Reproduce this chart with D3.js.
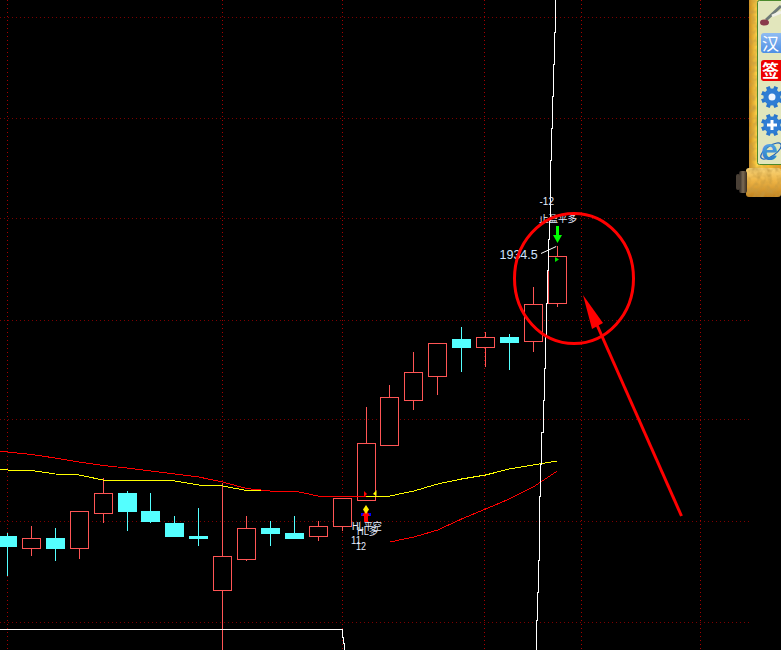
<!DOCTYPE html>
<html>
<head>
<meta charset="utf-8">
<script src="https://cdn.jsdelivr.net/npm/d3@7/dist/d3.min.js"></script>
<style>
html,body{margin:0;padding:0;background:#000;overflow:hidden}
svg{display:block}
text{font-family:"Liberation Sans","Noto Sans CJK SC",sans-serif}
</style>
</head>
<body>
<svg id="chart" width="781" height="650"></svg>
<script>
// ---- data ----
const bars   = d3.range(24);
const opens  = [1789.5,1783.5,1788.5,1783.5,1801,1811,1802,1796,1789.5,1762.5,1778,1793.5,1791,1789.5,1794.5,1807.5,1835,1857.5,1869,1888,1884,1889,1887,1906];
const closes = [1784.5,1788.5,1783.5,1802,1811,1802,1797,1789.5,1788.5,1779.5,1793.5,1791,1788.5,1794.5,1808.5,1836,1859,1871.5,1885.5,1884,1889,1886.5,1905.5,1929.5];
const highs  = [1791,1794.5,1793.5,1802,1818.5,1812,1811,1799.5,1803.5,1816,1799.5,1797,1799.5,1797,1808.5,1854,1865,1881.5,1885.5,1894,1891.5,1890.5,1914,1934.5];
const lows   = [1769.5,1779.5,1777,1778,1796,1792,1796,1789.5,1784.5,1727.5,1777,1784.5,1788.5,1787,1792,1807.5,1835,1852.5,1860,1871.5,1874,1872.5,1881.5,1904];

const maRedBars = [-1,0,1,2,3,4,5,6,7,8,9,10,11,12,13,14,15];
const maRed     = [1833,1831.5,1830.25,1828.5,1826.5,1824.75,1823.5,1822,1820.5,1819,1816.5,1813.25,1812,1812,1809.5,1809.5,1809.5];

const maYellowBars = [-1,0,1,2,3,4,5,6,7,8,9,10,11,12,13,14,15,16,17,18,19,20,21,22,23];
const maYellow     = [1823,1822.5,1822.25,1820.5,1820,1817.5,1817.5,1817.5,1817,1815,1814.5,1812.25,1812,1812,1809.5,1809.5,1809.5,1809.5,1812,1815.5,1818,1820,1823,1825,1827];

const lowerBars = [16,17,18,19,20,21,22,23];
const lowerLine = [1786.5,1789,1792.5,1798,1803,1808,1814,1822];

const steepBars   = [22.93,22.89,22.85,22.81,22.77,22.74,22.73,22.69,22.63,22.60,22.55,22.51,22.46,22.41,22.36,22.32,22.28,22.24,22.20,22.16,22.13,22.11];
const steepPrices = [2057.5,2041.5,2025.5,2009.5,1993.5,1977.5,1967.5,1947.5,1938,1922.5,1906,1889.5,1873.5,1857.5,1841.5,1825.5,1809.5,1793.5,1777.5,1761.5,1747.5,1732.5];

const floorBars   = [-1,14,14.05,14.1,14.16];
const floorPrices = [1742.75,1742.75,1739,1736,1732.5];

const gridPrices = [2049,1998.5,1948,1897.5,1847.5,1797,1746.5];
const gridBars   = [-0.01,9,14,19.97,24.03,29.0];

const priceLabel = "1934.5";
const topLabels  = ["-12","止盈平多"];
const lowLabels  = ["HL平空","HL多","11","12"];

// ---- scales ----
const x = d3.scaleLinear().domain([0,23]).range([7.5,557.2]);
const y = d3.scaleLinear().domain([1732.5,2057.5]).range([650,0]);
const svg = d3.select("#chart");
svg.append("rect").attr("width",781).attr("height",650).attr("fill","#000");

const RED="#ff5555", CYAN="#54ffff";
const px = v => Math.floor(v)+0.5;

// ---- grid ----
const grid = svg.append("g").attr("shape-rendering","crispEdges");
grid.selectAll("line.h").data(gridPrices).join("line").attr("class","h")
  .attr("x1",0).attr("x2",750).attr("y1",d=>px(y(d))).attr("y2",d=>px(y(d)))
  .attr("stroke","#7c0000").attr("stroke-dasharray","1 3");
grid.selectAll("line.v").data(gridBars).join("line").attr("class","v")
  .attr("x1",d=>px(x(d))).attr("x2",d=>px(x(d))).attr("y1",0).attr("y2",650)
  .attr("stroke","#a80000").attr("stroke-dasharray","1 3");

// ---- candles ----
const candles = svg.append("g").attr("shape-rendering","crispEdges");
const candle = candles.selectAll("g").data(bars).join("g");
candle.append("line")
  .attr("x1",i=>px(x(i))).attr("x2",i=>px(x(i)))
  .attr("y1",i=>y(highs[i])).attr("y2",i=>y(lows[i]))
  .attr("stroke",i=>closes[i]>=opens[i]?RED:CYAN);
candle.append("rect")
  .attr("x",i=>px(x(i))-9).attr("width",18)
  .attr("y",i=>px(y(Math.max(opens[i],closes[i]))))
  .attr("height",i=>Math.max(1,Math.round(y(Math.min(opens[i],closes[i]))-y(Math.max(opens[i],closes[i])))))
  .attr("fill",i=>closes[i]>=opens[i]?"#000":CYAN)
  .attr("stroke",i=>closes[i]>=opens[i]?RED:CYAN);

// ---- lines ----
const line = (xs,ys,curve) => d3.line().x((d,i)=>x(xs[i])).y((d,i)=>y(ys[i])).curve(curve||d3.curveLinear)(ys);
const strokeLine = (d,c) => svg.append("path").attr("d",d).attr("fill","none").attr("stroke",c).attr("stroke-width",1).attr("shape-rendering","crispEdges");
strokeLine(line(maYellowBars,maYellow),"#ffff00");
strokeLine(line(maRedBars,maRed),"#ff0000");
strokeLine(line(lowerBars,lowerLine),"#ff0000");
strokeLine(line(steepBars,steepPrices,d3.curveStepBefore),"#fff");
strokeLine(line(floorBars,floorPrices,d3.curveStepBefore),"#fff");

// ---- signal markers ----
const mk = svg.append("g");
mk.append("polygon").attr("points","364,491 364,497 367,494").attr("fill","#f00");
mk.append("polygon").attr("points","376.5,490 376.5,496 373,494").attr("fill","#ff0");
mk.append("rect").attr("x",361).attr("y",513).attr("width",10).attr("height",3).attr("fill","#0000ff");
mk.append("polygon").attr("points","366,510 370,516 368,516 368,522 364,522 364,516 362,516").attr("fill","#f00");
mk.append("polygon").attr("points","366,505 369,509.5 366,514 363,509.5").attr("fill","#ffee00");
mk.append("polygon").attr("points","556,226 559,226 559,235 562,235 557.5,243 553,235 556,235").attr("fill","#00ff00");
mk.append("polygon").attr("points","555,257 555,262 559,259.5").attr("fill","#00e000");

// ---- labels ----
const T = (t,xx,yy,fs,fill,len) => {
  const s = svg.append("text").text(t).attr("x",xx).attr("y",yy).attr("font-size",fs).attr("fill",fill||"#e4ecff");
  if(len) s.attr("textLength",len).attr("lengthAdjust","spacingAndGlyphs");
  return s;
};
T(lowLabels[0],352,529.5,10,null,30);
T(lowLabels[1],357,534.5,10,null,21);
T(lowLabels[2],351,544,10,null,10);
T(lowLabels[3],356,550,10,null,10);
T(topLabels[0],539.5,205,10);
T(topLabels[1],539,222,9.5);
T(priceLabel,499.5,259,12.5,"#cfe4ff");
svg.append("line").attr("x1",541).attr("y1",253.5).attr("x2",x(23)-1).attr("y2",y(highs[23])+0.5).attr("stroke","#fff");

// ---- hand-drawn annotation ----
svg.append("ellipse").attr("cx",574).attr("cy",278.5).attr("rx",59.5).attr("ry",65).attr("fill","none").attr("stroke","#f00").attr("stroke-width",3);
svg.append("line").attr("x1",681.5).attr("y1",516).attr("x2",597).attr("y2",325).attr("stroke","#f00").attr("stroke-width",3);
svg.append("polygon").attr("points","583,295 603,323 592,329").attr("fill","#f00");

// ---- toolbar ----
const defs = svg.append("defs");
const gold = defs.append("linearGradient").attr("id","gold").attr("x1",0).attr("x2",1).attr("y1",0).attr("y2",0);
[["0%","#c98a1c"],["25%","#ffd34a"],["70%","#f5b52a"],["100%","#e69a1e"]].forEach(s=>gold.append("stop").attr("offset",s[0]).attr("stop-color",s[1]));
const roll = defs.append("linearGradient").attr("id","roll").attr("x1",0).attr("x2",0).attr("y1",0).attr("y2",1);
[["0%","#f9d67a"],["45%","#eeb445"],["100%","#c0821f"]].forEach(s=>roll.append("stop").attr("offset",s[0]).attr("stop-color",s[1]));
const cap = defs.append("linearGradient").attr("id","cap").attr("x1",0).attr("x2",1).attr("y1",0).attr("y2",0);
[["0%","#2a2420"],["50%","#7a6a55"],["100%","#3a2c1c"]].forEach(s=>cap.append("stop").attr("offset",s[0]).attr("stop-color",s[1]));
const blue = defs.append("radialGradient").attr("id","blue");
[["0%","#7fc0f6"],["100%","#2a76cc"]].forEach(s=>blue.append("stop").attr("offset",s[0]).attr("stop-color",s[1]));
const hanBg = defs.append("linearGradient").attr("id","hanBg").attr("x1",0).attr("x2",0).attr("y1",0).attr("y2",1);
[["0%","#8fbcf2"],["100%","#4f8fe4"]].forEach(s=>hanBg.append("stop").attr("offset",s[0]).attr("stop-color",s[1]));
const ieBg = defs.append("linearGradient").attr("id","ieBg").attr("x1",0).attr("x2",0).attr("y1",0).attr("y2",1);
[["0%","#6fc0f2"],["100%","#1c6cc0"]].forEach(s=>ieBg.append("stop").attr("offset",s[0]).attr("stop-color",s[1]));
const tex = defs.append("filter").attr("id","tex").attr("x",0).attr("y",0).attr("width","100%").attr("height","100%");
tex.append("feTurbulence").attr("type","fractalNoise").attr("baseFrequency",0.18).attr("numOctaves",2).attr("seed",4).attr("result","n");
tex.append("feColorMatrix").attr("in","n").attr("type","matrix").attr("values","0 0 0 0 0.55  0 0 0 0 0.32  0 0 0 0 0.05  1.6 0 0 0 -0.55").attr("result","c");
tex.append("feComposite").attr("in","c").attr("in2","SourceGraphic").attr("operator","atop");

const tb = svg.append("g");
tb.append("rect").attr("x",749).attr("y",0).attr("width",32).attr("height",170).attr("fill","url(#gold)").attr("filter","url(#tex)");
tb.append("rect").attr("x",757.5).attr("y",0.5).attr("width",30).attr("height",164).attr("rx",2).attr("fill","#e2e6bc").attr("stroke","#4c8a2c");
// brush
tb.append("line").attr("x1",766).attr("y1",20).attr("x2",781).attr("y2",6).attr("stroke","#6e7a78").attr("stroke-width",3);
tb.append("line").attr("x1",772).attr("y1",16).attr("x2",781).attr("y2",12).attr("stroke","#f0f0e8").attr("stroke-width",3);
tb.append("ellipse").attr("cx",764.5).attr("cy",22.5).attr("rx",4.5).attr("ry",3).attr("fill","#8a3a4a");
// 汉 and 签
tb.append("rect").attr("x",761).attr("y",33).attr("width",24).attr("height",20).attr("rx",3).attr("fill","url(#hanBg)");
tb.append("text").text("汉").attr("x",762).attr("y",49.5).attr("font-size",17).attr("fill","#fff").style("font-family","'Noto Sans CJK SC'");
tb.append("rect").attr("x",761).attr("y",60).attr("width",24).attr("height",21).attr("rx",3).attr("fill","#ee0000");
tb.append("text").text("签").attr("x",762).attr("y",77).attr("font-size",17).attr("fill","#fff").attr("font-weight","bold").style("font-family","'Noto Sans CJK SC'");
// gears
function gear(cx,cy){
  const g=tb.append("g").attr("transform",`translate(${cx},${cy})`);
  d3.range(4).forEach(k=>g.append("rect").attr("x",-2).attr("y",-11).attr("width",4).attr("height",22).attr("fill","#2a76cc").attr("transform",`rotate(${k*45+22.5})`));
  g.append("circle").attr("r",8.5).attr("fill","#2f7dd4");
  return g;
}
gear(772,97).append("circle").attr("r",3.5).attr("fill","#f0f6ff");
const g2=gear(772,125);
g2.append("rect").attr("x",-5).attr("y",-1.5).attr("width",10).attr("height",3).attr("fill","#fff");
g2.append("rect").attr("x",-1.5).attr("y",-5).attr("width",3).attr("height",10).attr("fill","#fff");
// IE
tb.append("ellipse").attr("cx",771).attr("cy",151).attr("rx",12).attr("ry",5).attr("transform","rotate(-35 771 151)").attr("fill","none").attr("stroke","#1c62b8").attr("stroke-width",1.2);
tb.append("text").text("e").attr("x",761).attr("y",160).attr("font-size",30).attr("font-weight","bold").attr("fill","url(#ieBg)");
// scroll roll
tb.append("rect").attr("x",746).attr("y",168).attr("width",35).attr("height",29).attr("rx",3).attr("fill","url(#roll)").attr("filter","url(#tex)");
tb.append("rect").attr("x",739).attr("y",171).attr("width",8).attr("height",22).attr("rx",2).attr("fill","url(#cap)");
tb.append("rect").attr("x",736).attr("y",174).attr("width",4).attr("height",16).attr("rx",2).attr("fill","#4a4036");
</script>
</body>
</html>
